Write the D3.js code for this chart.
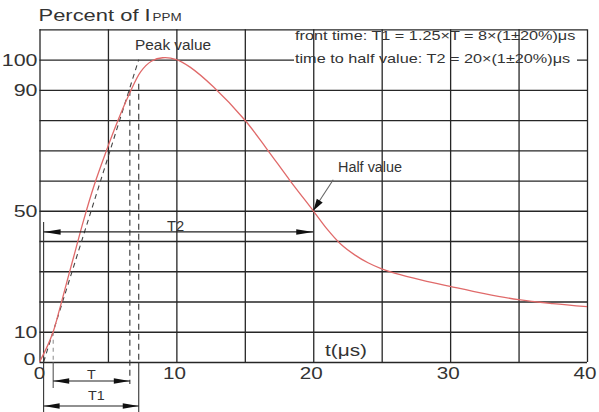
<!DOCTYPE html>
<html><head><meta charset="utf-8">
<script src="https://cdn.jsdelivr.net/npm/d3@7"></script>
<style>
html,body{margin:0;padding:0;background:#fff;}
svg{display:block;}
text{font-family:"Liberation Sans",Arial,sans-serif;fill:#333;}
</style>
</head><body>
<svg id="c" width="599" height="412"></svg>
<script>
// ---- data ----
const curveT = [0, 0.5, 1.0, 1.5, 2.0, 2.6, 3.2, 4.0, 4.9, 5.7, 6.6, 7.4, 8.2, 9.0, 10.0, 11.0, 12.7, 15.0, 16.6, 18.3, 20.0, 21.0, 22.0, 23.0, 24.0, 25.0, 26.0, 28.0, 30.0, 32.5, 35.0, 37.5, 40.0];
const curveV = [0, 4.5, 10, 18, 26.5, 36.5, 46.5, 58.5, 70, 79.5, 89, 96, 99.5, 100.6, 100, 97.5, 91, 80, 70.5, 60, 50, 44, 39, 35.5, 32.8, 30.8, 29.3, 27, 25, 22.6, 20.6, 19.3, 18.3];
const xTickLabels = [0, 10, 20, 30, 40];
const yTickLabels = [0, 10, 50, 90, 100];
const xGridValues = [0, 5, 10, 15, 20, 25, 30, 35, 40];
const yGridValues = [0, 10, 20, 30, 40, 50, 60, 70, 80, 90, 100, 110];
const tangentT = [0.3, 7.25];
const tangentV = [0, 100];
const tOrigin = 0.3, t10 = 1.0, t90 = 6.6, tFront = 7.25, tHalf = 20;
const vHalf = 50, v90 = 90, v10 = 10, vFrontTop = 92, vT2 = 43;
const titleMain = "Percent of I", titleSub = "PPM";
const infoLines = ["front time: T1 = 1.25×T = 8×(1±20%)μs", "time to half value: T2 = 20×(1±20%)μs"];
const axisTitle = "t(μs)";

// ---- scales ----
const svg = d3.select("#c");
const x = d3.scaleLinear().domain([0, 40]).range([39.5, 587]);
const y = d3.scaleLinear().domain([0, 110]).range([362, 29.3]);
const gridColor = "#262626";

function label(str, px, py, size, anchor, sx) {
  return svg.append("text")
    .attr("transform", `translate(${px},${py}) scale(${sx},1)`)
    .attr("text-anchor", anchor)
    .style("font-size", size + "px")
    .text(str);
}
function head(px, py, dx, dy, len, hw, color) {
  const L = Math.hypot(dx, dy), ux = dx / L, uy = dy / L;
  const bx = px - ux * len, by = py - uy * len;
  svg.append("polygon")
    .attr("points", [[px, py], [bx - uy * hw, by + ux * hw], [bx + uy * hw, by - ux * hw]].map(p => p.join(",")).join(" "))
    .attr("fill", color || "#111");
}

// ---- horizontal grid (axis) ----
const gH = svg.append("g").attr("transform", `translate(${x(0)},0)`)
  .call(d3.axisLeft(y).tickValues(yGridValues).tickSize(-(x(40) - x(0))).tickFormat(""));
gH.select(".domain").remove();
gH.selectAll("line").attr("stroke", gridColor).attr("stroke-width", 1.3);

// white box behind the info text hides the 100 line
svg.append("rect").attr("x", 294).attr("y", y(100) - 4).attr("width", 283).attr("height", 8).attr("fill", "#fff");

// ---- vertical grid (axis) ----
const gV = svg.append("g").attr("transform", `translate(0,${y(0)})`)
  .call(d3.axisBottom(x).tickValues(xGridValues).tickSize(-(y(0) - y(110))).tickFormat(""));
gV.select(".domain").remove();
gV.selectAll("line").attr("stroke", gridColor).attr("stroke-width", 1.3);

// ---- tangent (dashed) ----
svg.append("line")
  .attr("x1", x(tangentT[0])).attr("y1", y(tangentV[0]))
  .attr("x2", x(tangentT[1])).attr("y2", y(tangentV[1]))
  .attr("stroke", "#444").attr("stroke-width", 1.1).attr("stroke-dasharray", "5,4");

// dashed verticals
const dashCol = "#333";
svg.append("line").attr("x1", x(t90)).attr("x2", x(t90)).attr("y1", y(v90)).attr("y2", y(0) + 22)
  .attr("stroke", dashCol).attr("stroke-width", 1.1).attr("stroke-dasharray", "6,4");
svg.append("line").attr("x1", x(tFront)).attr("x2", x(tFront)).attr("y1", y(vFrontTop)).attr("y2", y(0))
  .attr("stroke", dashCol).attr("stroke-width", 1.1).attr("stroke-dasharray", "6,4");
svg.append("line").attr("x1", x(tFront)).attr("x2", x(tFront)).attr("y1", y(0)).attr("y2", y(0) + 50)
  .attr("stroke", dashCol).attr("stroke-width", 1.1);
svg.append("line").attr("x1", x(t10)).attr("x2", x(t10)).attr("y1", y(v10)).attr("y2", y(0))
  .attr("stroke", "#888").attr("stroke-width", 1).attr("stroke-dasharray", "4,4");
svg.append("line").attr("x1", x(t10)).attr("x2", x(t10)).attr("y1", y(0)).attr("y2", y(0) + 26)
  .attr("stroke", "#555").attr("stroke-width", 1.1);
svg.append("line").attr("x1", x(tOrigin)).attr("x2", x(tOrigin)).attr("y1", y(vT2) - 10).attr("y2", y(0) + 50)
  .attr("stroke", "#333").attr("stroke-width", 1.1);

// ---- curve ----
const pts = curveT.map((t, i) => [t, curveV[i]]);
svg.append("path").datum(pts)
  .attr("d", d3.line().x(d => x(d[0])).y(d => y(d[1])).curve(d3.curveCatmullRom.alpha(0.5)))
  .attr("fill", "none").attr("stroke", "#e06a6a").attr("stroke-width", 1.3);

// ---- T2 arrow ----
const yT2 = y(vT2);
svg.append("line").attr("x1", x(tOrigin)).attr("x2", x(tHalf)).attr("y1", yT2).attr("y2", yT2)
  .attr("stroke", "#222").attr("stroke-width", 1.2);
head(x(tOrigin), yT2, -1, 0, 17, 2.8);
head(x(tHalf), yT2, 1, 0, 17, 2.8);

// ---- T and T1 arrows ----
const yT = y(0) + 19, yT1 = y(0) + 44;
svg.append("line").attr("x1", x(t10)).attr("x2", x(t90)).attr("y1", yT).attr("y2", yT).attr("stroke", "#222").attr("stroke-width", 1.2);
head(x(t10), yT, -1, 0, 16, 2.8);
head(x(t90), yT, 1, 0, 16, 2.8);
svg.append("line").attr("x1", x(tOrigin)).attr("x2", x(tFront)).attr("y1", yT1).attr("y2", yT1).attr("stroke", "#222").attr("stroke-width", 1.2);
head(x(tOrigin), yT1, -1, 0, 16, 2.8);
head(x(tFront), yT1, 1, 0, 16, 2.8);

// ---- half value arrow ----
const hx = x(tHalf), hy = y(vHalf);
svg.append("line").attr("x1", hx + 20).attr("y1", hy - 31).attr("x2", hx + 3).attr("y2", hy - 5)
  .attr("stroke", "#666").attr("stroke-width", 1.1);
head(hx, hy, -20, 31, 12, 3.5);

// ---- texts ----
label(titleMain, 38.5, 20.5, 16.5, "start", 1.33);
label(titleSub, 152.5, 20.5, 10.5, "start", 1.28);
yTickLabels.forEach(v => label(String(v), v === 0 ? 35.5 : 37.5, y(v) + (v === 0 ? 2.5 : 6), 16.5, "end", 1.3));
xTickLabels.forEach(v => label(String(v), x(v) - (v === 0 ? 0 : 2), y(0) + 16.5, 16.5, "middle", 1.25));
label(axisTitle, 325, 355.5, 16, "start", 1.3);
label("Peak value", 135, 50, 14, "start", 1.1);
label(infoLines[0], 295, 39.5, 12.5, "start", 1.3);
label(infoLines[1], 295, 63, 12.5, "start", 1.3);
label("Half value", 338, 172, 14, "start", 1.03);
label("T2", 167, 231, 14, "start", 1.05);
label("T", 87, 379, 13, "start", 1.1);
label("T1", 88, 400, 13, "start", 1.1);
</script>
</body></html>
